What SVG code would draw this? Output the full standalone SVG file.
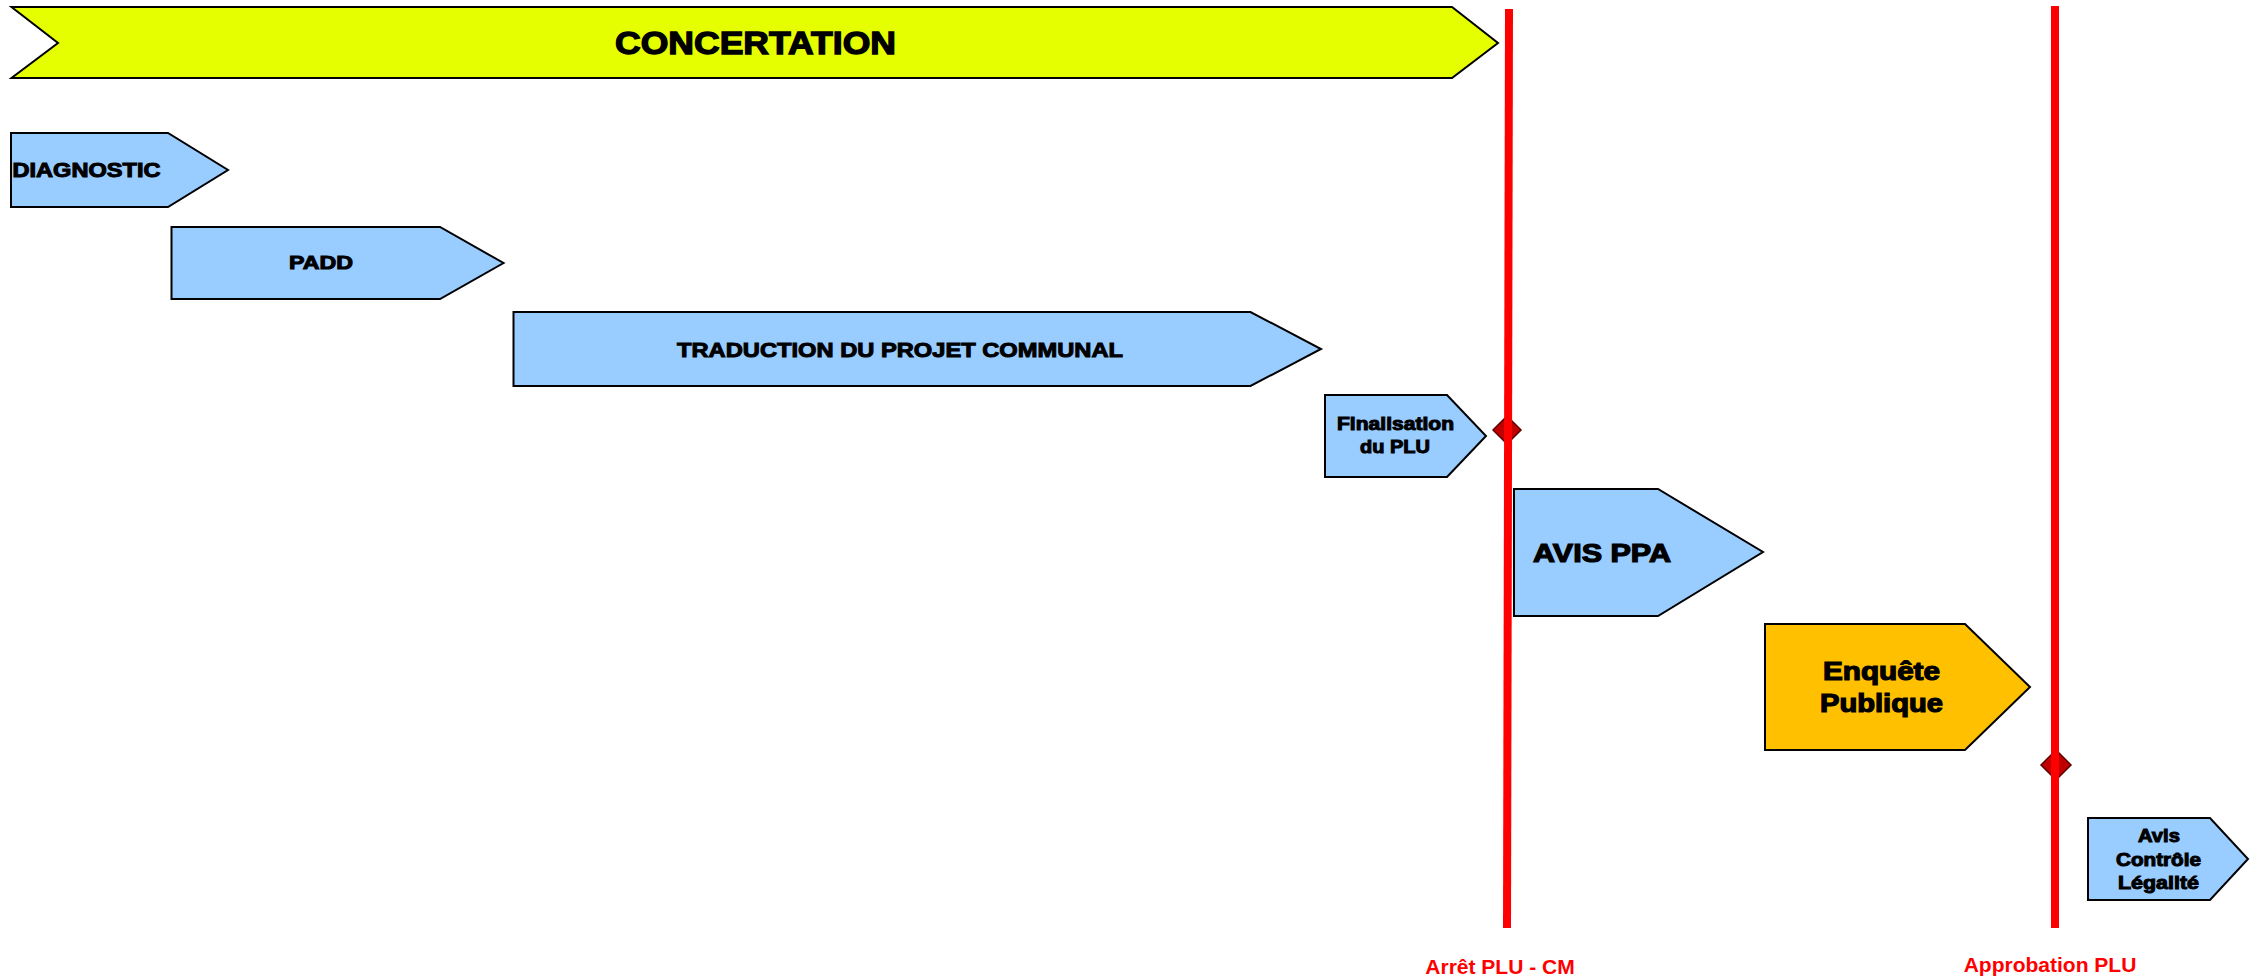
<svg xmlns="http://www.w3.org/2000/svg" width="2255" height="980" viewBox="0 0 2255 980">
<style>
.sh{stroke:#000;stroke-width:2;stroke-linejoin:miter}
.blue{fill:#99CCFF}
.yel{fill:#E5FF00}
.ora{fill:#FFC000}
.t{font-family:"Liberation Sans",Arial,sans-serif;font-weight:bold;fill:#000;stroke:#000;stroke-width:1}
.r{font-family:"Liberation Sans",Arial,sans-serif;font-weight:bold;fill:#FF0000;font-size:21px}
.ln{stroke:#FF0000;stroke-width:8;fill:none}
.dm{fill:#C00000;stroke:#600000;stroke-width:1.5}
</style>
<rect width="2255" height="980" fill="#fff"/>
<g id="concertation">
<polygon class="sh yel" points="11.5,7 1452,7 1498,43 1452,78 11.5,78 58,43"/>
<text class="t" x="615" y="54" font-size="31" textLength="281" lengthAdjust="spacingAndGlyphs" style="stroke-width:1.3">CONCERTATION</text>
</g>
<g id="diagnostic">
<polygon class="sh blue" points="11,133 168,133 228,170 168,207 11,207"/>
<text class="t" x="12.5" y="177" font-size="19.5" textLength="148" lengthAdjust="spacingAndGlyphs">DIAGNOSTIC</text>
</g>
<g id="padd">
<polygon class="sh blue" points="171.5,227 440,227 503.5,263 440,299 171.5,299"/>
<text class="t" x="289" y="269" font-size="19" textLength="64" lengthAdjust="spacingAndGlyphs">PADD</text>
</g>
<g id="traduction">
<polygon class="sh blue" points="513.5,312 1250.5,312 1321,349 1250.5,386 513.5,386"/>
<text class="t" x="677" y="357" font-size="21" textLength="446" lengthAdjust="spacingAndGlyphs">TRADUCTION DU PROJET COMMUNAL</text>
</g>
<g id="finalisation">
<polygon class="sh blue" points="1325,395 1447,395 1486,436 1447,477 1325,477"/>
<text class="t" x="1337" y="430" font-size="18" textLength="117" lengthAdjust="spacingAndGlyphs">Finalisation</text>
<text class="t" x="1360" y="453" font-size="18" textLength="70" lengthAdjust="spacingAndGlyphs">du PLU</text>
</g>
<g id="avis-ppa">
<polygon class="sh blue" points="1514,489 1658,489 1763,552 1658,616 1514,616"/>
<text class="t" x="1533" y="562" font-size="25" textLength="138" lengthAdjust="spacingAndGlyphs" style="stroke-width:1.2">AVIS PPA</text>
</g>
<g id="enquete">
<polygon class="sh ora" points="1765,624 1965,624 2030,687 1965,750 1765,750"/>
<text class="t" x="1823" y="680" font-size="25" textLength="117" lengthAdjust="spacingAndGlyphs" style="stroke-width:1.2">Enquête</text>
<text class="t" x="1820" y="712" font-size="25" textLength="123" lengthAdjust="spacingAndGlyphs" style="stroke-width:1.2">Publique</text>
</g>
<g id="avis-controle">
<polygon class="sh blue" points="2088,818 2210,818 2248,859 2210,900 2088,900"/>
<text class="t" x="2138" y="842" font-size="18" textLength="42" lengthAdjust="spacingAndGlyphs">Avis</text>
<text class="t" x="2116" y="866" font-size="18" textLength="85" lengthAdjust="spacingAndGlyphs">Contrôle</text>
<text class="t" x="2118" y="889" font-size="18" textLength="81" lengthAdjust="spacingAndGlyphs">Légalité</text>
</g>
<g id="connectors">
<polygon class="dm" points="1507,416 1521,430 1507,444 1493,430"/>
<polygon class="dm" points="2056,750 2071,765 2056,780 2041,765"/>
<line class="ln" x1="1509" y1="9" x2="1507" y2="928"/>
<line class="ln" x1="2055" y1="6" x2="2055" y2="928"/>
</g>
<g id="milestone-arret">
<text class="r" x="1500" y="974" text-anchor="middle">Arrêt PLU - CM</text>
</g>
<g id="milestone-approbation">
<text class="r" x="2050" y="972" text-anchor="middle">Approbation PLU</text>
</g>
</svg>
